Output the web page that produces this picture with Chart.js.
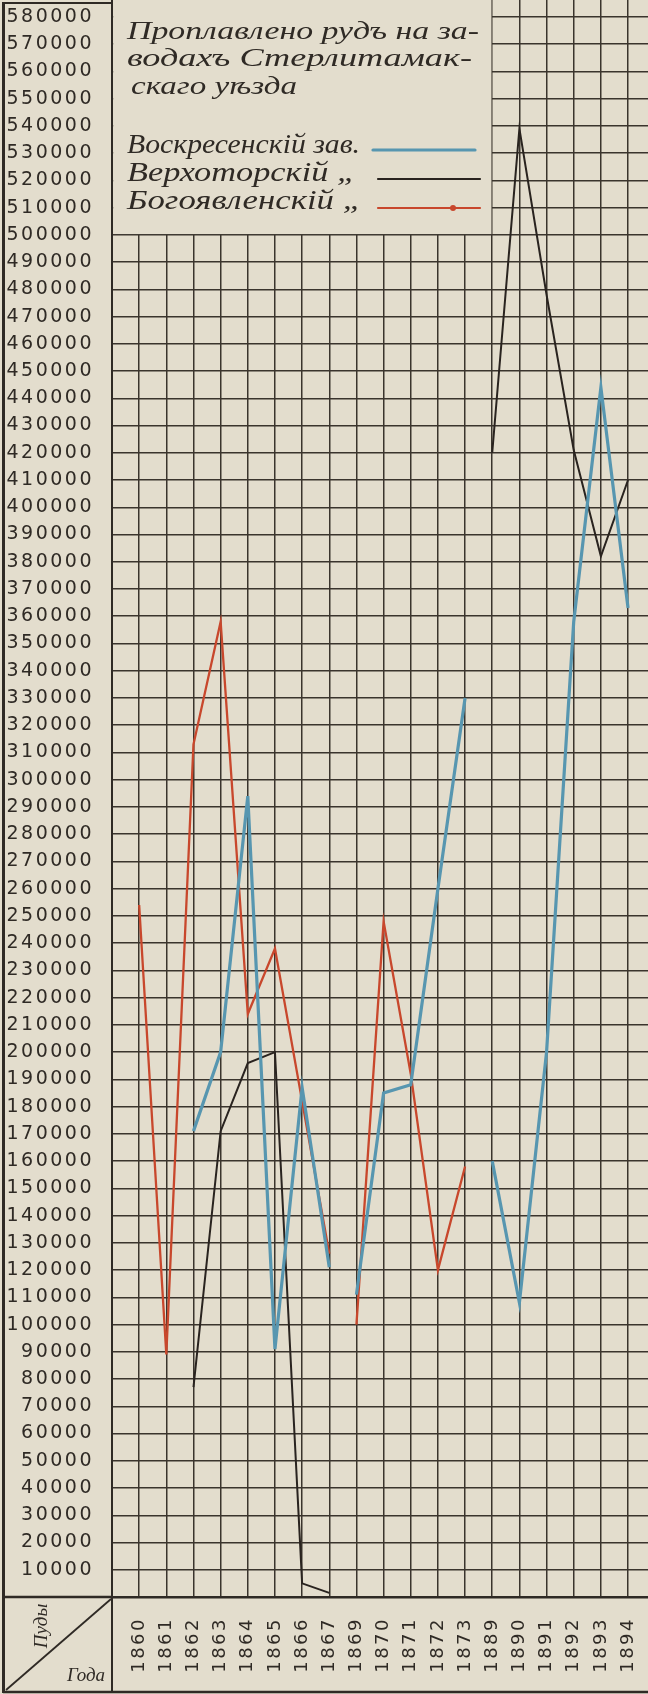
<!DOCTYPE html>
<html>
<head>
<meta charset="utf-8">
<script src="https://cdn.jsdelivr.net/npm/chart.js@4.4.1/dist/chart.umd.min.js"></script>
<style>
    html, body { margin: 0; padding: 0; background: #e3ddcd; }
    #wrap { width: 648px; height: 1694px; }
</style>
</head>
<body>
<div id="wrap"><canvas id="oreChart" width="648" height="1694"></canvas></div>
<script>
// years along the bottom (1868 and 1874-1888 are not on the sheet)
const years = [1860, 1861, 1862, 1863, 1864, 1865, 1866, 1867, 1869, 1870, 1871, 1872, 1873, 1889, 1890, 1891, 1892, 1893, 1894];

// poods of ore smelted per works
const voskresensky  = [null, null, 171000, 200000, 294000, 91000, 187000, 121000, 111000, 185000, 188000, 260000, 330000, 160000, 108000, 200000, 358000, 444000, 363000];
const verkhotorsky  = [null, null, 77000, 171000, 196000, 200000, 5000, 1500, null, null, null, null, null, 420000, 539000, 478000, 421000, 382000, 410000];
const bogoyavlensky = [254000, 89000, 313000, 358000, 214000, 238000, 182000, 126000, 100000, 248000, 192000, 120000, 158000, null, null, null, null, null, null];

// ruled lines on the left: every 10000 poods up to 580000
const poodTicks = [];
for (let v = 0; v <= 580000; v += 10000) poodTicks.push(v);

const titleLines = ['Проплавлено рудъ на за-', 'водахъ Стерлитамак-', 'скаго уѣзда'];
const seriesNames = ['Воскресенскій зав.', 'Верхоторскій „', 'Богоявленскій „'];
const cornerTop = 'Пуды';
const cornerBottom = 'Года';

const paper = '#e3ddcd';
const ink = '#2f2a25';
const gridInk = '#3a342d';
const blue = '#5796b0';
const black = '#29231f';
const red = '#c8472c';

const toPoints = arr => arr.map((v, i) => ({ x: i, y: v }));

// lines only join neighbouring years
const gapColor = color => ctx =>
    years[ctx.p1DataIndex] - years[ctx.p0DataIndex] > 1 ? 'rgba(0,0,0,0)' : color;

function fitText(ctx, text, x, baseline, width, size) {
    ctx.font = 'italic ' + size + 'px "Liberation Serif"';
    const w = ctx.measureText(text).width;
    ctx.save();
    ctx.translate(x, baseline);
    ctx.scale(width / w, 1);
    ctx.fillText(text, 0, 0);
    ctx.restore();
}

function line(ctx, x1, y1, x2, y2, w, color) {
    ctx.beginPath();
    ctx.moveTo(x1, y1);
    ctx.lineTo(x2, y2);
    ctx.lineWidth = w;
    ctx.strokeStyle = color;
    ctx.stroke();
}

const sheetPlugin = {
    id: 'sheet',
    beforeDraw(chart) {
        const ctx = chart.ctx;
        ctx.fillStyle = paper;
        ctx.fillRect(0, 0, chart.width, chart.height);
        ctx.letterSpacing = '2.5px';
    },
    beforeDatasetsDraw(chart) {
        // blank paper where the title and key are written
        const ctx = chart.ctx;
        const left = chart.chartArea.left + 1.2;
        const right = chart.scales.x.getPixelForValue(13) - 0.8;
        const bottom = chart.scales.y.getPixelForValue(500000) - 0.8;
        ctx.save();
        ctx.fillStyle = paper;
        ctx.fillRect(left, 0, right - left, bottom);
        ctx.restore();
    },
    afterDraw(chart) {
        const ctx = chart.ctx;
        const area = chart.chartArea;
        ctx.save();
        ctx.letterSpacing = '0px';
        ctx.fillStyle = ink;
        ctx.textBaseline = 'alphabetic';
        ctx.textAlign = 'left';

        fitText(ctx, titleLines[0], 127, 39, 352, 26);
        fitText(ctx, titleLines[1], 127, 66, 345, 26);
        fitText(ctx, titleLines[2], 131, 94, 166, 26);

        fitText(ctx, seriesNames[0], 127, 153, 233, 27);
        fitText(ctx, seriesNames[1], 127, 181, 229, 27);
        fitText(ctx, seriesNames[2], 127, 209, 235, 27);

        ctx.lineCap = 'round';
        line(ctx, 373, 150, 475, 150, 3.2, blue);
        line(ctx, 378, 179, 480, 179, 2.2, black);
        line(ctx, 378, 208, 480, 208, 2.2, red);
        ctx.beginPath();
        ctx.arc(453, 208, 3, 0, Math.PI * 2);
        ctx.fillStyle = red;
        ctx.fill();
        ctx.lineCap = 'butt';

        // frame of the label column and the year row
        const bot = area.bottom;
        line(ctx, 2, 3, area.left, 3, 2, ink);
        line(ctx, 3.5, 2, 3.5, 1693, 3, ink);
        line(ctx, 3, bot, area.left, bot, 2.5, ink);
        line(ctx, area.left, bot, area.left, 1693, 2, ink);
        line(ctx, 3, 1692, chart.width, 1692, 2.5, ink);
        line(ctx, 6, 1690, area.left - 1, bot + 2, 1.8, ink);

        ctx.fillStyle = ink;
        ctx.font = 'italic 19px "Liberation Serif"';
        ctx.save();
        ctx.translate(47, 1626);
        ctx.rotate(-Math.PI / 2);
        ctx.textAlign = 'center';
        ctx.fillText(cornerTop, 0, 0);
        ctx.restore();
        ctx.textAlign = 'center';
        ctx.fillText(cornerBottom, 86, 1681);
        ctx.restore();
    }
};

const config = {
    type: 'line',
    data: {
        datasets: [
            {
                label: seriesNames[0],
                data: toPoints(voskresensky),
                borderColor: blue,
                borderWidth: 3.2,
                segment: { borderColor: gapColor(blue) }
            },
            {
                label: seriesNames[1],
                data: toPoints(verkhotorsky),
                borderColor: black,
                borderWidth: 2,
                segment: { borderColor: gapColor(black) }
            },
            {
                label: seriesNames[2],
                data: toPoints(bogoyavlensky),
                borderColor: red,
                borderWidth: 2.3,
                segment: { borderColor: gapColor(red) }
            }
        ]
    },
    options: {
        responsive: false,
        animation: false,
        devicePixelRatio: 1,
        layout: { padding: 0 },
        elements: {
            point: { radius: 0, hoverRadius: 0 },
            line: { tension: 0, borderJoinStyle: 'miter', fill: false }
        },
        plugins: {
            legend: { display: false },
            title: { display: false },
            tooltip: { enabled: false }
        },
        scales: {
            x: {
                type: 'linear',
                min: -1,
                max: 18.735,
                grid: { color: gridInk, lineWidth: 1.5, drawTicks: false, tickLength: 0 },
                border: { display: true, color: ink, width: 2.5 },
                ticks: {
                    stepSize: 1,
                    autoSkip: false,
                    includeBounds: false,
                    minRotation: 90,
                    maxRotation: 90,
                    padding: 20,
                    color: ink,
                    font: { family: 'DejaVu Sans', size: 18 },
                    callback: v => {
                        const y = years[Math.round(v)];
                        return y === undefined ? '' : String(y);
                    }
                },
                afterFit: s => { s.height = 97; s.paddingLeft = 0; s.paddingRight = 0; }
            },
            y: {
                type: 'linear',
                min: 0,
                max: 586200,
                grid: { color: gridInk, lineWidth: 1.5, drawTicks: false, tickLength: 0 },
                border: { display: true, color: ink, width: 2 },
                ticks: {
                    autoSkip: false,
                    padding: 18,
                    color: ink,
                    font: { family: 'DejaVu Sans', size: 19 },
                    callback: v => v === 0 ? '' : String(v)
                },
                afterBuildTicks: s => { s.ticks = poodTicks.map(v => ({ value: v })); },
                afterFit: s => { s.width = 112; s.paddingTop = 0; s.paddingBottom = 0; }
            }
        }
    },
    plugins: [sheetPlugin]
};

new Chart(document.getElementById('oreChart').getContext('2d'), config);
</script>
</body>
</html>
